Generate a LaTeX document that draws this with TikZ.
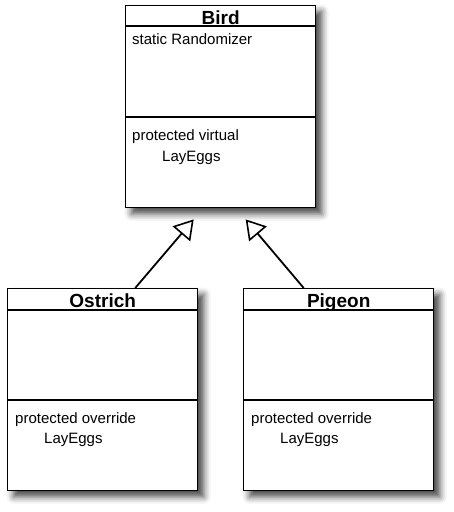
\documentclass[tikz,border=0pt]{standalone}
\usepackage{fontspec}
\setmainfont{Liberation Sans}
\usetikzlibrary{arrows.meta,positioning,calc,shadows.blur}

\begin{document}
\begin{tikzpicture}[
    x=1pt, y=-1pt,
    umlclass/.style={draw=black, line width=1.4pt, fill=white, inner sep=0pt, anchor=north west,
        minimum width=190pt, minimum height=202pt,
        blur shadow={shadow xshift=6pt, shadow yshift=-6pt, shadow blur radius=7pt, shadow opacity=75}},
    classline/.style={line width=1.4pt},
    classname/.style={font=\fontsize{19}{19}\selectfont\bfseries, anchor=base, inner sep=0pt},
    member/.style={font=\fontsize{15}{18}\selectfont, anchor=base west, inner sep=0pt},
    inherit/.style={line width=1.8pt, -{Triangle[open, length=19pt, width=23pt, line width=1.6pt]}},
]
\useasboundingbox (0,0) rectangle (454,512);
% base class
\node[umlclass] (bird) at (125,5) {};
\draw[classline] ($(bird.north west)+(0,21)$) -- ($(bird.north east)+(0,21)$);
\draw[classline] ($(bird.north west)+(0,112)$) -- ($(bird.north east)+(0,112)$);
\node[classname] (birdname) at ($(bird.north)+(0,19)$) {Bird};
\node[member] (birdattr) at ($(bird.north west)+(7,39)$) {static Randomizer};
\node[member] (birdop) at ($(bird.north west)+(7,135)$) {protected virtual};
\node[member] (birdopname) at ($(bird.north west)+(37,156)$) {LayEggs};
% derived classes
\foreach \cls/\title/\xx in {ostrich/Ostrich/7, pigeon/Pigeon/243} {
  \node[umlclass] (\cls) at (\xx,288) {};
  \draw[classline] ($(\cls.north west)+(0,22)$) -- ($(\cls.north east)+(0,22)$);
  \draw[classline] ($(\cls.north west)+(0,112)$) -- ($(\cls.north east)+(0,112)$);
  \node[classname] (\cls name) at ($(\cls.north)+(0,19)$) {\title};
  \node[member] (\cls op) at ($(\cls.north west)+(8,135)$) {protected override};
  \node[member] (\cls opname) at ($(\cls.north west)+(37,155)$) {LayEggs};
}
% generalisation arrows
\coordinate (tipL) at ($(bird.south)+(-27,11)$);
\coordinate (tipR) at ($(bird.south)+(25,11)$);
\draw[inherit] ($(ostrich.north)+(32.5,0)$) -- (tipL);
\draw[inherit] ($(pigeon.north)+(-35,0)$) -- (tipR);
\end{tikzpicture}
\end{document}
